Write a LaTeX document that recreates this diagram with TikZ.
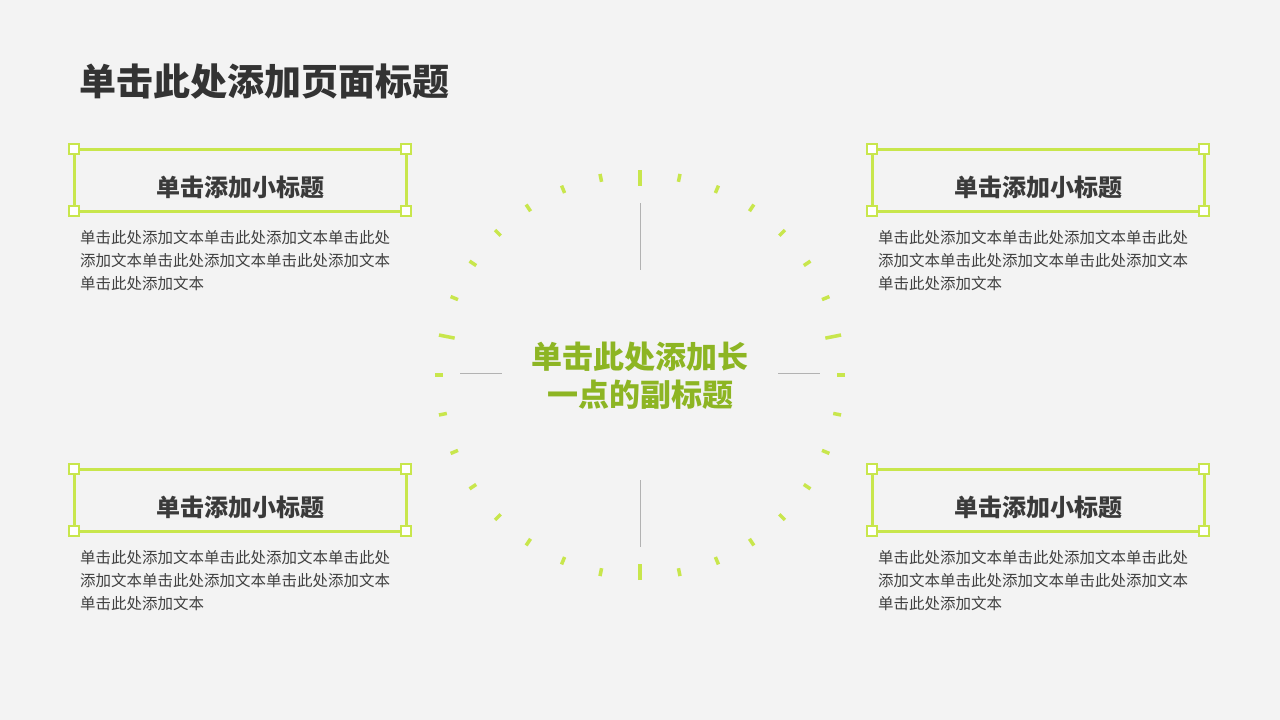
\documentclass[tikz,border=0pt]{standalone}
\usepackage{fontspec}
\usetikzlibrary{calc}
\setmainfont{Noto Sans CJK SC}
\definecolor{bg}{HTML}{F3F3F3}
\definecolor{lg}{HTML}{C8E64C}
\definecolor{dg}{HTML}{8DB523}
\definecolor{tx}{HTML}{404040}
\begin{document}
\begin{tikzpicture}[x=1pt,y=-1pt,
  frame/.style={draw=lg,line width=3pt},
  corner/.style={draw=lg,fill=white,line width=2.2pt,minimum size=10pt,inner sep=0pt},
  sub/.style={font=\bfseries\fontsize{24}{28}\selectfont,text=tx!90!black},
  body/.style={font=\fontsize{15.5}{23}\selectfont,text=tx,align=left,anchor=north west,inner sep=0pt},
  tick/.style={draw=lg,line width=3.5pt},
  gl/.style={draw=gray!60,line width=0.6pt}]
\fill[bg] (0,0) rectangle (1280,720);
\node[anchor=west,font=\bfseries\fontsize{37}{42}\selectfont,text=tx!80!black,inner sep=0pt] (title) at (79,82) {单击此处添加页面标题};
\foreach \x/\y/\n in {74/149/a,872/149/b,74/469/c,872/469/d}{
  \draw[frame] (\x,\y) rectangle ++(332,62);
  \node[sub] (s\n) at (\x+166,\y+38) {单击添加小标题};
  \foreach \dx/\dy in {0/0,332/0,0/62,332/62}
    \node[corner] at (\x+\dx,\y+\dy) {};
  \node[body] (b\n) at (\x+6,\y+81) {单击此处添加文本单击此处添加文本单击此处\\添加文本单击此处添加文本单击此处添加文本\\单击此处添加文本};
}
\coordinate (c) at (640,375);
\foreach \i in {0,...,31}{
  \pgfmathsetmacro\ri{(\i==8||\i==24||\i==31||\i==17)?189:197}
  \draw[tick] ($(c)+(\i*11.25:205)$) -- ($(c)+(\i*11.25:\ri)$);
}
\draw[gl] (640,203) -- (640,270);
\draw[gl] (640,480) -- (640,547);
\draw[gl] (460,373) -- (502,373);
\draw[gl] (778,373) -- (820,373);
\node[align=center,font=\bfseries\fontsize{31}{38}\selectfont,text=dg] (ct) at (640,376) {单击此处添加长\\一点的副标题};
\end{tikzpicture}
\end{document}
